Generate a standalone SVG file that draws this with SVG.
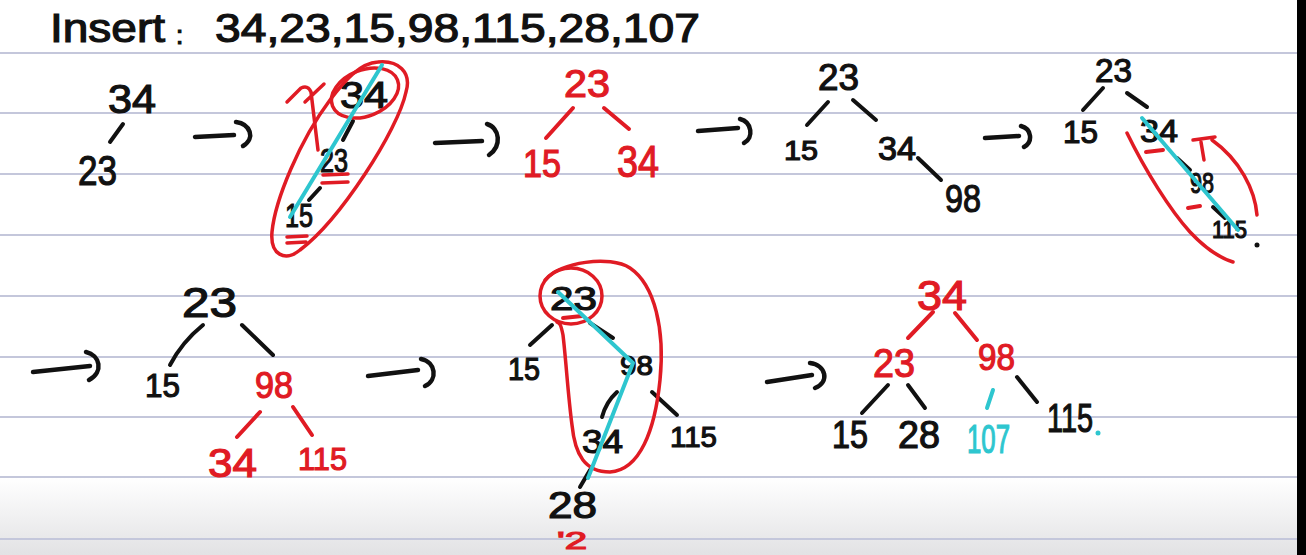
<svg xmlns="http://www.w3.org/2000/svg" width="1306" height="555" viewBox="0 0 1306 555">
<defs>
<linearGradient id="bottomShade" x1="0" y1="0" x2="0" y2="1">
<stop offset="0" stop-color="#ffffff"/>
<stop offset="1" stop-color="#e2e2e4"/>
</linearGradient>
<style>
.rule{stroke:#c4c7db;stroke-width:2}
text{font-family:"Liberation Sans","DejaVu Sans",sans-serif;}
.k{fill:#111;stroke:#111;stroke-width:1.2}
.r{fill:#e01b24;stroke:#e01b24;stroke-width:1.2}
.c{fill:#2ec6cf;stroke:#2ec6cf;stroke-width:1.2}
.ek{stroke:#111;stroke-width:4;stroke-linecap:round;fill:none}
.er{stroke:#e01b24;stroke-width:4;stroke-linecap:round;fill:none}
.ec{stroke:#2ec6cf;stroke-width:4;stroke-linecap:round;fill:none}
.loop{stroke:#e01b24;stroke-width:3.5;stroke-linecap:round;stroke-linejoin:round;fill:none}
.arrow{stroke:#111;stroke-width:4.5;stroke-linecap:round;fill:none}
</style>
</defs>
<rect x="0" y="0" width="1306" height="555" fill="#ffffff"/>
<rect x="0" y="478" width="1306" height="77" fill="url(#bottomShade)"/>
<g id="rules">
<line class="rule" x1="0" y1="53" x2="1297" y2="53"/>
<line class="rule" x1="0" y1="113" x2="1297" y2="113"/>
<line class="rule" x1="0" y1="174" x2="1297" y2="174"/>
<line class="rule" x1="0" y1="235" x2="1297" y2="235"/>
<line class="rule" x1="0" y1="296" x2="1297" y2="296"/>
<line class="rule" x1="0" y1="357" x2="1297" y2="357"/>
<line class="rule" x1="0" y1="417" x2="1297" y2="417"/>
<line class="rule" x1="0" y1="477" x2="1297" y2="477"/>
<line class="rule" x1="0" y1="539" x2="1297" y2="539"/>
</g>
<rect x="1297" y="0" width="9" height="555" fill="#000"/>

<g id="title">
<text class="k" font-size="40"><tspan x="50" y="42" textLength="115" lengthAdjust="spacingAndGlyphs">Insert</tspan><tspan x="176" y="44" font-size="26">:</tspan><tspan x="215" y="42" textLength="485" lengthAdjust="spacingAndGlyphs">34,23,15,98,115,28,107</tspan></text>
</g>

<g id="connectors">
<!-- step arrows -->
<path class="arrow" d="M195,137 L234,135 M236,122 C250,124 256,138 243,146"/>
<path class="arrow" d="M435,143 L482,141 M487,124 C500,128 502,146 489,155"/>
<path class="arrow" d="M698,131 L738,128 M740,119 C752,122 754,138 744,143"/>
<path class="arrow" d="M985,138 L1019,136 M1021,126 C1032,129 1033,142 1024,147"/>
<path class="arrow" d="M33,372 L90,366 M86,352 C100,355 104,372 89,380"/>
<path class="arrow" d="M368,376 L418,370 M421,359 C436,362 438,380 425,386"/>
<path class="arrow" d="M767,382 L812,375 M810,363 C826,365 830,382 815,388"/>
<!-- tree edges -->
<line class="ek" x1="123" y1="124" x2="110" y2="142"/>
<line class="ek" x1="353" y1="121" x2="343" y2="140"/>
<line class="ek" x1="320" y1="188" x2="309" y2="200"/>
<line class="er" x1="573" y1="108" x2="546" y2="138"/>
<line class="er" x1="604" y1="108" x2="629" y2="129"/>
<line class="ek" x1="828" y1="102" x2="807" y2="125"/>
<line class="ek" x1="853" y1="100" x2="876" y2="120"/>
<line class="ek" x1="918" y1="158" x2="941" y2="180"/>
<line class="ek" x1="1103" y1="88" x2="1083" y2="110"/>
<line class="ek" x1="1127" y1="93" x2="1147" y2="107"/>
<line class="ek" x1="1177" y1="158" x2="1190" y2="170"/>
<line class="ek" x1="1213" y1="207" x2="1225" y2="218"/>
<path class="ek" d="M203,325 Q182,342 170,365"/>
<line class="ek" x1="242" y1="325" x2="273" y2="355"/>
<line class="er" x1="260" y1="412" x2="237" y2="437"/>
<line class="er" x1="293" y1="407" x2="312" y2="435"/>
<line class="ek" x1="552" y1="325" x2="530" y2="345"/>
<line class="ek" x1="590" y1="323" x2="613" y2="338"/>
<path class="ek" d="M617,392 Q606,402 602,417"/>
<line class="ek" x1="652" y1="392" x2="677" y2="415"/>
<line class="ek" x1="590" y1="470" x2="580" y2="487"/>
<line class="er" x1="933" y1="312" x2="908" y2="338"/>
<line class="er" x1="955" y1="313" x2="977" y2="340"/>
<line class="ek" x1="888" y1="385" x2="862" y2="413"/>
<line class="ek" x1="908" y1="385" x2="925" y2="408"/>
<line class="ec" x1="993" y1="390" x2="987" y2="408"/>
<line class="ek" x1="1017" y1="377" x2="1037" y2="402"/>
</g>

<g id="tree1">
<g id="t1-34"><text class="k" x="108" y="113" font-size="40" textLength="48" lengthAdjust="spacingAndGlyphs">34</text></g>
<g id="t1-23"><text class="k" x="78" y="185" font-size="42" textLength="39" lengthAdjust="spacingAndGlyphs">23</text></g>
</g>

<g id="tree2">
<g id="t2-34"><text class="k" x="340" y="108" font-size="36" textLength="48" lengthAdjust="spacingAndGlyphs">34</text></g>
<g id="t2-23"><text class="k" x="320" y="172" font-size="34" textLength="28" lengthAdjust="spacingAndGlyphs">23</text></g>
<g id="t2-15"><text class="k" x="285" y="227" font-size="34" textLength="28" lengthAdjust="spacingAndGlyphs">15</text></g>
<g id="t2-marks">
<path class="loop" d="M323,175 L348,174 M322,183 L348,182 M287,237 L307,236 M287,243 L306,242"/>
<ellipse class="loop" cx="365" cy="93" rx="35" ry="23" transform="rotate(-22 365 93)"/>
<path class="loop" d="M378,62 C398,60 412,72 406,92 C398,130 340,220 300,250 C285,262 270,255 272,232 C275,200 300,140 330,100 C345,80 360,63 378,62"/>
<path class="loop" d="M287,102 L301,88 Q308,85 311,92 L318,150 M305,102 L324,84"/>
<line class="ec" x1="382" y1="65" x2="290" y2="217"/>
</g>
</g>

<g id="tree3">
<g id="t3-23"><text class="r" x="564" y="97" font-size="38" textLength="46" lengthAdjust="spacingAndGlyphs">23</text></g>
<g id="t3-15"><text class="r" x="523" y="177" font-size="38" textLength="38" lengthAdjust="spacingAndGlyphs">15</text></g>
<g id="t3-34"><text class="r" x="617" y="177" font-size="44" textLength="42" lengthAdjust="spacingAndGlyphs">34</text></g>
</g>

<g id="tree4">
<g id="t4-23"><text class="k" x="818" y="90" font-size="36" textLength="41" lengthAdjust="spacingAndGlyphs">23</text></g>
<g id="t4-15"><text class="k" x="784" y="160" font-size="28" textLength="34" lengthAdjust="spacingAndGlyphs">15</text></g>
<g id="t4-34"><text class="k" x="878" y="160" font-size="34" textLength="38" lengthAdjust="spacingAndGlyphs">34</text></g>
<g id="t4-98"><text class="k" x="945" y="212" font-size="38" textLength="36" lengthAdjust="spacingAndGlyphs">98</text></g>
</g>

<g id="tree5">
<g id="t5-23"><text class="k" x="1095" y="82" font-size="34" textLength="37" lengthAdjust="spacingAndGlyphs">23</text></g>
<g id="t5-15"><text class="k" x="1063" y="143" font-size="32" textLength="35" lengthAdjust="spacingAndGlyphs">15</text></g>
<g id="t5-34"><text class="k" x="1140" y="142" font-size="32" textLength="38" lengthAdjust="spacingAndGlyphs">34</text></g>
<g id="t5-98"><text class="k" x="1190" y="193" font-size="30" textLength="24" lengthAdjust="spacingAndGlyphs">98</text></g>
<g id="t5-115"><text class="k" x="1212" y="238" font-size="24" textLength="35" lengthAdjust="spacingAndGlyphs">115</text><circle cx="1257" cy="245" r="2.5" fill="#111"/></g>
<g id="t5-marks">
<path class="er" stroke-width="6" d="M1146,152 L1163,150 M1188,208 L1200,206"/>
<path class="loop" d="M1127,133 C1145,170 1170,210 1190,232 C1205,248 1220,258 1233,262"/>
<path class="loop" d="M1257,215 C1255,190 1240,160 1212,140 M1193,140 L1215,137 M1201,142 L1204,160"/>
<line class="ec" x1="1142" y1="118" x2="1238" y2="230"/>
</g>
</g>

<g id="tree6">
<g id="t6-23"><text class="k" x="182" y="317" font-size="42" textLength="55" lengthAdjust="spacingAndGlyphs">23</text></g>
<g id="t6-15"><text class="k" x="145" y="397" font-size="34" textLength="35" lengthAdjust="spacingAndGlyphs">15</text></g>
<g id="t6-98"><text class="r" x="255" y="398" font-size="36" textLength="38" lengthAdjust="spacingAndGlyphs">98</text></g>
<g id="t6-34"><text class="r" x="208" y="477" font-size="40" textLength="49" lengthAdjust="spacingAndGlyphs">34</text></g>
<g id="t6-115"><text class="r" x="298" y="470" font-size="32" textLength="49" lengthAdjust="spacingAndGlyphs">115</text></g>
</g>

<g id="tree7">
<g id="t7-23"><text class="k" x="550" y="310" font-size="34" textLength="47" lengthAdjust="spacingAndGlyphs">23</text></g>
<g id="t7-15"><text class="k" x="508" y="380" font-size="32" textLength="32" lengthAdjust="spacingAndGlyphs">15</text></g>
<g id="t7-98"><text class="k" x="620" y="375" font-size="28" textLength="33" lengthAdjust="spacingAndGlyphs">98</text></g>
<g id="t7-34"><text class="k" x="582" y="453" font-size="34" textLength="41" lengthAdjust="spacingAndGlyphs">34</text></g>
<g id="t7-115"><text class="k" x="670" y="447" font-size="30" textLength="47" lengthAdjust="spacingAndGlyphs">115</text></g>
<g id="t7-28"><text class="k" x="548" y="518" font-size="36" textLength="49" lengthAdjust="spacingAndGlyphs">28</text></g>
<g id="t7-2"><text class="r" x="557" y="549" font-size="24" textLength="30" lengthAdjust="spacingAndGlyphs">'2</text></g>
<g id="t7-marks">
<ellipse class="loop" cx="571" cy="296" rx="31" ry="28"/>
<path class="er" d="M563,318 L582,316"/>
<path class="loop" d="M545,280 C560,262 610,255 630,268 C655,285 665,330 660,380 C655,430 640,470 610,472 C585,472 575,455 572,425 C568,395 566,360 563,335 C561,325 560,323 557,322"/>
<polyline class="ec" points="558,292 633,363 588,478" stroke-linejoin="round"/>
</g>
</g>

<g id="tree8">
<g id="t8-34"><text class="r" x="917" y="310" font-size="42" textLength="50" lengthAdjust="spacingAndGlyphs">34</text></g>
<g id="t8-23"><text class="r" x="873" y="377" font-size="40" textLength="42" lengthAdjust="spacingAndGlyphs">23</text></g>
<g id="t8-98"><text class="r" x="978" y="370" font-size="36" textLength="37" lengthAdjust="spacingAndGlyphs">98</text></g>
<g id="t8-15"><text class="k" x="832" y="448" font-size="38" textLength="36" lengthAdjust="spacingAndGlyphs">15</text></g>
<g id="t8-28"><text class="k" x="898" y="448" font-size="38" textLength="42" lengthAdjust="spacingAndGlyphs">28</text></g>
<g id="t8-107"><text class="c" x="967" y="453" font-size="40" textLength="43" lengthAdjust="spacingAndGlyphs">107</text></g>
<g id="t8-115"><text class="k" x="1047" y="432" font-size="40" textLength="46" lengthAdjust="spacingAndGlyphs">115</text><circle cx="1098" cy="433" r="2.5" fill="#2ec6cf"/></g>
</g>
</svg>
